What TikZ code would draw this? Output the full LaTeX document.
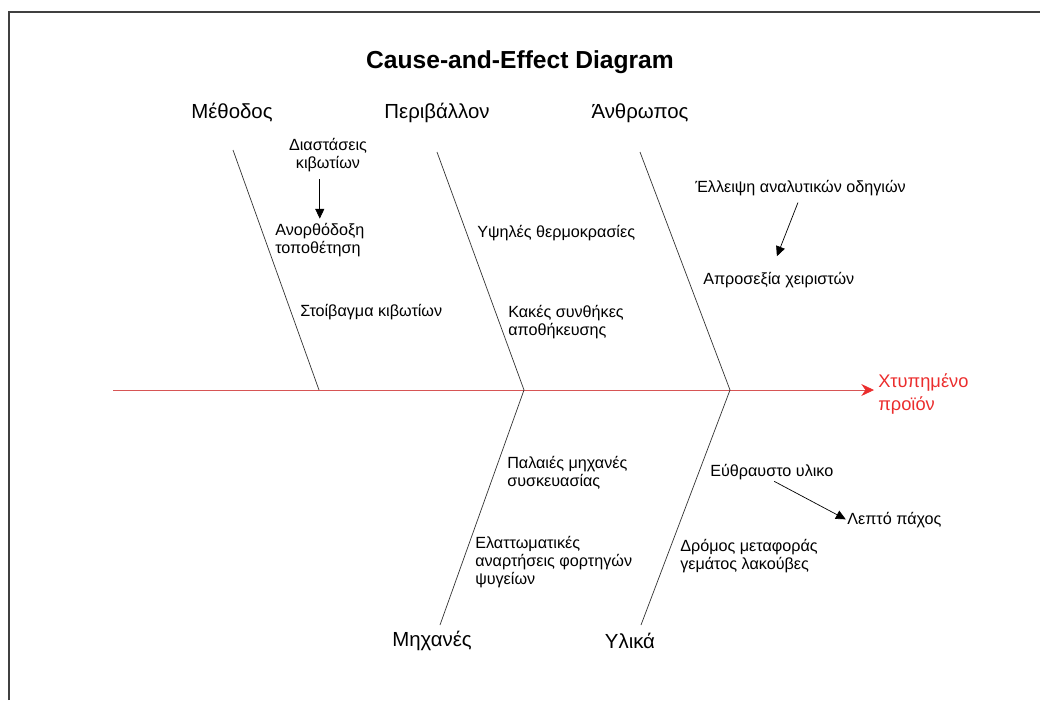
\documentclass[tikz,border=0pt]{standalone}
\usepackage{fontspec}
\setmainfont{Liberation Sans}
\usetikzlibrary{arrows.meta}
\definecolor{spinered}{RGB}{215,85,85}
\definecolor{effectred}{RGB}{235,45,45}

\begin{document}
\begin{tikzpicture}[x=0.025cm,y=-0.025cm,
  category/.style={font=\fontsize{14.5}{17}\selectfont,inner sep=0pt},
  cause/.style={font=\fontsize{11.5}{13}\selectfont,align=left,anchor=west,inner sep=0pt},
  bone/.style={draw=black!80,line width=0.5pt},
  subarrow/.style={draw=black,line width=0.5pt,-{Triangle[length=7pt,width=6.5pt]}}]
\useasboundingbox (0,0) rectangle (1040,700);
\draw[line width=1.3pt,black!75] (9,700) -- (9,12) -- (1040,12);
\node[font=\bfseries\fontsize{17.5}{20}\selectfont] (T) at (520,62) {Cause-and-Effect Diagram};
% spine
\coordinate (S) at (113,390);
\coordinate (J1) at (319,390);
\coordinate (J2) at (524,390);
\coordinate (J3) at (730,390);
\node[cause,text=effectred,font=\fontsize{13}{16}\selectfont] (E) at (878,394) {Χτυπημένο\\προϊόν};
\draw[spinered,line width=0.6pt,-{Stealth[length=9pt,width=8.5pt,color=effectred]}] (S) -- ([xshift=-0.1cm]S -| E.west);
% bones
\coordinate (A) at (233,150);
\coordinate (B) at (437,152);
\coordinate (C) at (640,152);
\coordinate (D) at (440,625);
\coordinate (F) at (641,625);
\path [bone] (A) edge (J1);
\path [bone] (B) edge (J2);
\path [bone] (C) edge (J3);
\path [bone] (J2) edge (D);
\path [bone] (J3) edge (F);
% categories
\node[category] (M) at (232,113) {Μέθοδος};
\node[category] (P) at (437,113) {Περιβάλλον};
\node[category] (N) at (640,113) {Άνθρωπος};
\node[category] (Mx) at (432,641) {Μηχανές};
\node[category] (Y) at (630,641) {Υλικά};
% causes
\node[cause,align=center,anchor=center] (Dk) at (328,155) {Διαστάσεις\\κιβωτίων};
\node[cause] (An) at (275,240) {Ανορθόδοξη\\τοποθέτηση};
\node[cause] (St) at (300,312) {Στοίβαγμα κιβωτίων};
\node[cause] (Yt) at (477,233) {Υψηλές θερμοκρασίες};
\node[cause] (Ks) at (508,322) {Κακές συνθήκες\\αποθήκευσης};
\node[cause] (El) at (695,188) {Έλλειψη αναλυτικών οδηγιών};
\node[cause] (Ap) at (703,280) {Απροσεξία χειριστών};
\node[cause] (Pm) at (507,473) {Παλαιές μηχανές\\συσκευασίας};
\node[cause] (Ea) at (475,562) {Ελαττωματικές\\αναρτήσεις φορτηγών\\ψυγείων};
\node[cause] (Ev) at (710,472) {Εύθραυστο υλικο};
\node[cause] (Lp) at (847,520) {Λεπτό πάχος};
\node[cause] (Dr) at (680,556) {Δρόμος μεταφοράς\\γεμάτος λακούβες};
\draw[subarrow,shorten <=5pt,shorten >=3pt] (An.north |- Dk.south) -- (An.north);
\draw[subarrow,shorten <=5pt,shorten >=12pt] (El.south) -- ([xshift=-0.2cm]Ap.north);
\draw[subarrow,shorten <=2pt,shorten >=1pt] (Ev.south) -- (Lp.west);
\end{tikzpicture}
\end{document}
